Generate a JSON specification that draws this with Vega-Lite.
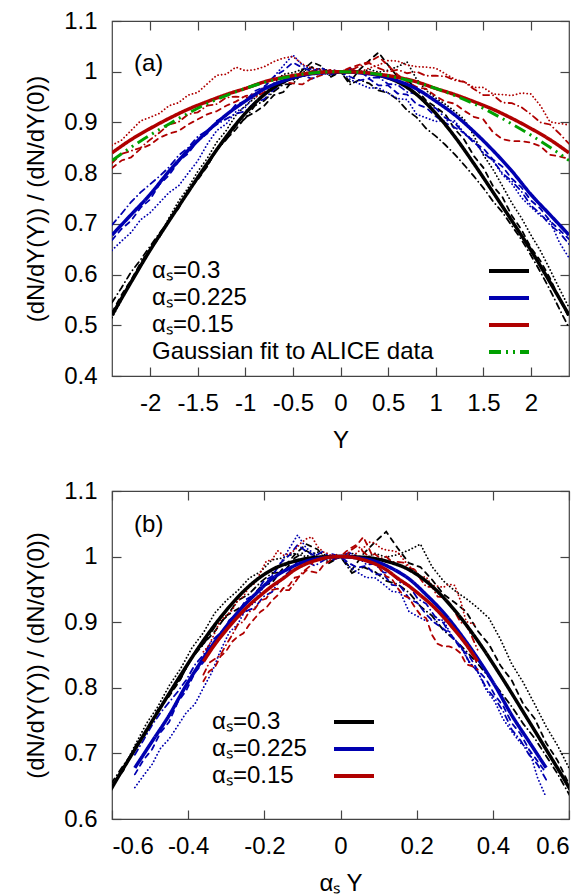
{
  "$schema": "https://vega.github.io/schema/vega-lite/v6.json",
  "padding": {"left": 24, "top": 8, "right": 0, "bottom": 0},
  "bounds": "flush",
  "spacing": 115,
  "config": {
    "view": {"stroke": "#444", "strokeWidth": 1.2},
    "font": "Liberation Sans",
    "locale": {"number": {"decimal": ".", "thousands": ",", "grouping": [3], "currency": ["$", ""], "minus": "-"}},
    "axis": {"grid": false, "domain": false, "tickColor": "#444", "tickSize": -9, "tickWidth": 1.2, "labelFont": "Liberation Sans", "labelFontSize": 24, "labelColor": "black", "labelPadding": 24, "titleFont": "Liberation Sans", "titleFontSize": 24, "titleFontWeight": "normal", "titleColor": "black"},
    "legend": {"labelFont": "Liberation Sans", "labelFontSize": 24, "labelColor": "black", "labelLimit": 0, "symbolType": "M-2,0L2,0", "symbolSize": 400, "symbolStrokeWidth": 4, "rowPadding": 3, "padding": 0}
  },
  "datasets": {
    "curves": [
      {"s":"αₛ=0.3","x":-2.4,"a":-0.72,"v":0.520},{"s":"αₛ=0.3","x":-2.2,"a":-0.66,"v":0.585},{"s":"αₛ=0.3","x":-2.0,"a":-0.6,"v":0.648},{"s":"αₛ=0.3","x":-1.8,"a":-0.54,"v":0.706},{"s":"αₛ=0.3","x":-1.6,"a":-0.48,"v":0.763},{"s":"αₛ=0.3","x":-1.4,"a":-0.42,"v":0.819},{"s":"αₛ=0.3","x":-1.2,"a":-0.36,"v":0.872},{"s":"αₛ=0.3","x":-1.0,"a":-0.3,"v":0.918},{"s":"αₛ=0.3","x":-0.8,"a":-0.24,"v":0.955},{"s":"αₛ=0.3","x":-0.6,"a":-0.18,"v":0.980},{"s":"αₛ=0.3","x":-0.4,"a":-0.12,"v":0.993},{"s":"αₛ=0.3","x":-0.2,"a":-0.06,"v":0.999},{"s":"αₛ=0.3","x":0,"a":0,"v":1.0},{"s":"αₛ=0.3","x":0.2,"a":0.06,"v":0.999},{"s":"αₛ=0.3","x":0.4,"a":0.12,"v":0.993},{"s":"αₛ=0.3","x":0.6,"a":0.18,"v":0.980},{"s":"αₛ=0.3","x":0.8,"a":0.24,"v":0.955},{"s":"αₛ=0.3","x":1.0,"a":0.3,"v":0.918},{"s":"αₛ=0.3","x":1.2,"a":0.36,"v":0.872},{"s":"αₛ=0.3","x":1.4,"a":0.42,"v":0.819},{"s":"αₛ=0.3","x":1.6,"a":0.48,"v":0.763},{"s":"αₛ=0.3","x":1.8,"a":0.54,"v":0.706},{"s":"αₛ=0.3","x":2.0,"a":0.6,"v":0.648},{"s":"αₛ=0.3","x":2.2,"a":0.66,"v":0.585},{"s":"αₛ=0.3","x":2.4,"a":0.72,"v":0.520},
      {"s":"αₛ=0.225","x":-2.4,"a":-0.54,"v":0.678},{"s":"αₛ=0.225","x":-2.2,"a":-0.495,"v":0.718},{"s":"αₛ=0.225","x":-2.0,"a":-0.45,"v":0.758},{"s":"αₛ=0.225","x":-1.8,"a":-0.405,"v":0.804},{"s":"αₛ=0.225","x":-1.6,"a":-0.36,"v":0.845},{"s":"αₛ=0.225","x":-1.4,"a":-0.315,"v":0.882},{"s":"αₛ=0.225","x":-1.2,"a":-0.27,"v":0.915},{"s":"αₛ=0.225","x":-1.0,"a":-0.225,"v":0.942},{"s":"αₛ=0.225","x":-0.8,"a":-0.18,"v":0.966},{"s":"αₛ=0.225","x":-0.6,"a":-0.135,"v":0.982},{"s":"αₛ=0.225","x":-0.4,"a":-0.09,"v":0.993},{"s":"αₛ=0.225","x":-0.2,"a":-0.045,"v":0.998},{"s":"αₛ=0.225","x":0,"a":0,"v":1.0},{"s":"αₛ=0.225","x":0.2,"a":0.045,"v":0.998},{"s":"αₛ=0.225","x":0.4,"a":0.09,"v":0.993},{"s":"αₛ=0.225","x":0.6,"a":0.135,"v":0.982},{"s":"αₛ=0.225","x":0.8,"a":0.18,"v":0.966},{"s":"αₛ=0.225","x":1.0,"a":0.225,"v":0.942},{"s":"αₛ=0.225","x":1.2,"a":0.27,"v":0.915},{"s":"αₛ=0.225","x":1.4,"a":0.315,"v":0.882},{"s":"αₛ=0.225","x":1.6,"a":0.36,"v":0.845},{"s":"αₛ=0.225","x":1.8,"a":0.405,"v":0.804},{"s":"αₛ=0.225","x":2.0,"a":0.45,"v":0.758},{"s":"αₛ=0.225","x":2.2,"a":0.495,"v":0.718},{"s":"αₛ=0.225","x":2.4,"a":0.54,"v":0.678},
      {"s":"αₛ=0.15","x":-2.4,"a":-0.36,"v":0.840},{"s":"αₛ=0.15","x":-2.2,"a":-0.33,"v":0.866},{"s":"αₛ=0.15","x":-2.0,"a":-0.3,"v":0.888},{"s":"αₛ=0.15","x":-1.8,"a":-0.27,"v":0.908},{"s":"αₛ=0.15","x":-1.6,"a":-0.24,"v":0.926},{"s":"αₛ=0.15","x":-1.4,"a":-0.21,"v":0.941},{"s":"αₛ=0.15","x":-1.2,"a":-0.18,"v":0.955},{"s":"αₛ=0.15","x":-1.0,"a":-0.15,"v":0.967},{"s":"αₛ=0.15","x":-0.8,"a":-0.12,"v":0.980},{"s":"αₛ=0.15","x":-0.6,"a":-0.09,"v":0.989},{"s":"αₛ=0.15","x":-0.4,"a":-0.06,"v":0.995},{"s":"αₛ=0.15","x":-0.2,"a":-0.03,"v":0.999},{"s":"αₛ=0.15","x":0,"a":0,"v":1.0},{"s":"αₛ=0.15","x":0.2,"a":0.03,"v":0.999},{"s":"αₛ=0.15","x":0.4,"a":0.06,"v":0.995},{"s":"αₛ=0.15","x":0.6,"a":0.09,"v":0.989},{"s":"αₛ=0.15","x":0.8,"a":0.12,"v":0.980},{"s":"αₛ=0.15","x":1.0,"a":0.15,"v":0.967},{"s":"αₛ=0.15","x":1.2,"a":0.18,"v":0.955},{"s":"αₛ=0.15","x":1.4,"a":0.21,"v":0.941},{"s":"αₛ=0.15","x":1.6,"a":0.24,"v":0.926},{"s":"αₛ=0.15","x":1.8,"a":0.27,"v":0.908},{"s":"αₛ=0.15","x":2.0,"a":0.3,"v":0.888},{"s":"αₛ=0.15","x":2.2,"a":0.33,"v":0.866},{"s":"αₛ=0.15","x":2.4,"a":0.36,"v":0.840},
      {"s":"Gaussian fit to ALICE data","x":-2.4,"v":0.825},{"s":"Gaussian fit to ALICE data","x":-2.2,"v":0.851},{"s":"Gaussian fit to ALICE data","x":-2.0,"v":0.875},{"s":"Gaussian fit to ALICE data","x":-1.8,"v":0.897},{"s":"Gaussian fit to ALICE data","x":-1.6,"v":0.918},{"s":"Gaussian fit to ALICE data","x":-1.4,"v":0.937},{"s":"Gaussian fit to ALICE data","x":-1.2,"v":0.953},{"s":"Gaussian fit to ALICE data","x":-1.0,"v":0.967},{"s":"Gaussian fit to ALICE data","x":-0.8,"v":0.979},{"s":"Gaussian fit to ALICE data","x":-0.6,"v":0.988},{"s":"Gaussian fit to ALICE data","x":-0.4,"v":0.995},{"s":"Gaussian fit to ALICE data","x":-0.2,"v":0.999},{"s":"Gaussian fit to ALICE data","x":0,"v":1.0},{"s":"Gaussian fit to ALICE data","x":0.2,"v":0.999},{"s":"Gaussian fit to ALICE data","x":0.4,"v":0.995},{"s":"Gaussian fit to ALICE data","x":0.6,"v":0.988},{"s":"Gaussian fit to ALICE data","x":0.8,"v":0.979},{"s":"Gaussian fit to ALICE data","x":1.0,"v":0.967},{"s":"Gaussian fit to ALICE data","x":1.2,"v":0.953},{"s":"Gaussian fit to ALICE data","x":1.4,"v":0.937},{"s":"Gaussian fit to ALICE data","x":1.6,"v":0.918},{"s":"Gaussian fit to ALICE data","x":1.8,"v":0.897},{"s":"Gaussian fit to ALICE data","x":2.0,"v":0.875},{"s":"Gaussian fit to ALICE data","x":2.2,"v":0.851},{"s":"Gaussian fit to ALICE data","x":2.4,"v":0.825},
      {"s":"0.3 run1","x":-2.4,"a":-0.72,"v":0.525},{"s":"0.3 run1","x":-2.3,"a":-0.69,"v":0.560},{"s":"0.3 run1","x":-2.2,"a":-0.66,"v":0.589},{"s":"0.3 run1","x":-2.1,"a":-0.63,"v":0.623},{"s":"0.3 run1","x":-2.0,"a":-0.6,"v":0.650},{"s":"0.3 run1","x":-1.9,"a":-0.57,"v":0.674},{"s":"0.3 run1","x":-1.8,"a":-0.54,"v":0.710},{"s":"0.3 run1","x":-1.7,"a":-0.51,"v":0.733},{"s":"0.3 run1","x":-1.6,"a":-0.48,"v":0.766},{"s":"0.3 run1","x":-1.5,"a":-0.45,"v":0.787},{"s":"0.3 run1","x":-1.4,"a":-0.42,"v":0.813},{"s":"0.3 run1","x":-1.3,"a":-0.39,"v":0.848},{"s":"0.3 run1","x":-1.2,"a":-0.36,"v":0.867},{"s":"0.3 run1","x":-1.1,"a":-0.33,"v":0.886},{"s":"0.3 run1","x":-1.0,"a":-0.3,"v":0.910},{"s":"0.3 run1","x":-0.9,"a":-0.27,"v":0.920},{"s":"0.3 run1","x":-0.8,"a":-0.24,"v":0.933},{"s":"0.3 run1","x":-0.7,"a":-0.21,"v":0.954},{"s":"0.3 run1","x":-0.6,"a":-0.18,"v":0.960},{"s":"0.3 run1","x":-0.5,"a":-0.15,"v":0.983},{"s":"0.3 run1","x":-0.4,"a":-0.12,"v":1.003},{"s":"0.3 run1","x":-0.3,"a":-0.09,"v":1.019},{"s":"0.3 run1","x":-0.2,"a":-0.06,"v":1.011},{"s":"0.3 run1","x":-0.1,"a":-0.03,"v":0.990},{"s":"0.3 run1","x":0,"a":0,"v":1.0},{"s":"0.3 run1","x":0.1,"a":0.03,"v":0.980},{"s":"0.3 run1","x":0.2,"a":0.06,"v":1.004},{"s":"0.3 run1","x":0.3,"a":0.09,"v":1.022},{"s":"0.3 run1","x":0.4,"a":0.12,"v":1.038},{"s":"0.3 run1","x":0.5,"a":0.15,"v":1.013},{"s":"0.3 run1","x":0.6,"a":0.18,"v":0.990},{"s":"0.3 run1","x":0.7,"a":0.21,"v":0.984},{"s":"0.3 run1","x":0.8,"a":0.24,"v":0.965},{"s":"0.3 run1","x":0.9,"a":0.27,"v":0.943},{"s":"0.3 run1","x":1.0,"a":0.3,"v":0.930},{"s":"0.3 run1","x":1.1,"a":0.33,"v":0.916},{"s":"0.3 run1","x":1.2,"a":0.36,"v":0.887},{"s":"0.3 run1","x":1.3,"a":0.39,"v":0.866},{"s":"0.3 run1","x":1.4,"a":0.42,"v":0.834},{"s":"0.3 run1","x":1.5,"a":0.45,"v":0.811},{"s":"0.3 run1","x":1.6,"a":0.48,"v":0.775},{"s":"0.3 run1","x":1.7,"a":0.51,"v":0.753},{"s":"0.3 run1","x":1.8,"a":0.54,"v":0.716},{"s":"0.3 run1","x":1.9,"a":0.57,"v":0.689},{"s":"0.3 run1","x":2.0,"a":0.6,"v":0.653},{"s":"0.3 run1","x":2.1,"a":0.63,"v":0.627},{"s":"0.3 run1","x":2.2,"a":0.66,"v":0.593},{"s":"0.3 run1","x":2.3,"a":0.69,"v":0.552},{"s":"0.3 run1","x":2.4,"a":0.72,"v":0.515},
      {"s":"0.3 run2","x":-2.4,"a":-0.72,"v":0.515},{"s":"0.3 run2","x":-2.3,"a":-0.69,"v":0.550},{"s":"0.3 run2","x":-2.2,"a":-0.66,"v":0.588},{"s":"0.3 run2","x":-2.1,"a":-0.63,"v":0.617},{"s":"0.3 run2","x":-2.0,"a":-0.6,"v":0.652},{"s":"0.3 run2","x":-1.9,"a":-0.57,"v":0.677},{"s":"0.3 run2","x":-1.8,"a":-0.54,"v":0.712},{"s":"0.3 run2","x":-1.7,"a":-0.51,"v":0.745},{"s":"0.3 run2","x":-1.6,"a":-0.48,"v":0.771},{"s":"0.3 run2","x":-1.5,"a":-0.45,"v":0.803},{"s":"0.3 run2","x":-1.4,"a":-0.42,"v":0.829},{"s":"0.3 run2","x":-1.3,"a":-0.39,"v":0.861},{"s":"0.3 run2","x":-1.2,"a":-0.36,"v":0.884},{"s":"0.3 run2","x":-1.1,"a":-0.33,"v":0.914},{"s":"0.3 run2","x":-1.0,"a":-0.3,"v":0.933},{"s":"0.3 run2","x":-0.9,"a":-0.27,"v":0.948},{"s":"0.3 run2","x":-0.8,"a":-0.24,"v":0.967},{"s":"0.3 run2","x":-0.7,"a":-0.21,"v":0.977},{"s":"0.3 run2","x":-0.6,"a":-0.18,"v":0.995},{"s":"0.3 run2","x":-0.5,"a":-0.15,"v":0.998},{"s":"0.3 run2","x":-0.4,"a":-0.12,"v":1.005},{"s":"0.3 run2","x":-0.3,"a":-0.09,"v":1.000},{"s":"0.3 run2","x":-0.2,"a":-0.06,"v":1.007},{"s":"0.3 run2","x":-0.1,"a":-0.03,"v":1.000},{"s":"0.3 run2","x":0,"a":0,"v":1.0},{"s":"0.3 run2","x":0.1,"a":0.03,"v":1.005},{"s":"0.3 run2","x":0.2,"a":0.06,"v":0.996},{"s":"0.3 run2","x":0.3,"a":0.09,"v":1.005},{"s":"0.3 run2","x":0.4,"a":0.12,"v":0.999},{"s":"0.3 run2","x":0.5,"a":0.15,"v":1.003},{"s":"0.3 run2","x":0.6,"a":0.18,"v":1.010},{"s":"0.3 run2","x":0.7,"a":0.21,"v":1.019},{"s":"0.3 run2","x":0.8,"a":0.24,"v":0.985},{"s":"0.3 run2","x":0.9,"a":0.27,"v":0.963},{"s":"0.3 run2","x":1.0,"a":0.3,"v":0.948},{"s":"0.3 run2","x":1.1,"a":0.33,"v":0.936},{"s":"0.3 run2","x":1.2,"a":0.36,"v":0.922},{"s":"0.3 run2","x":1.3,"a":0.39,"v":0.906},{"s":"0.3 run2","x":1.4,"a":0.42,"v":0.874},{"s":"0.3 run2","x":1.5,"a":0.45,"v":0.836},{"s":"0.3 run2","x":1.6,"a":0.48,"v":0.808},{"s":"0.3 run2","x":1.7,"a":0.51,"v":0.775},{"s":"0.3 run2","x":1.8,"a":0.54,"v":0.741},{"s":"0.3 run2","x":1.9,"a":0.57,"v":0.712},{"s":"0.3 run2","x":2.0,"a":0.6,"v":0.678},{"s":"0.3 run2","x":2.1,"a":0.63,"v":0.647},{"s":"0.3 run2","x":2.2,"a":0.66,"v":0.610},{"s":"0.3 run2","x":2.3,"a":0.69,"v":0.572},{"s":"0.3 run2","x":2.4,"a":0.72,"v":0.535},
      {"s":"0.3 run3","x":-2.4,"a":-0.72,"v":0.545},{"s":"0.3 run3","x":-2.3,"a":-0.69,"v":0.574},{"s":"0.3 run3","x":-2.2,"a":-0.66,"v":0.605},{"s":"0.3 run3","x":-2.1,"a":-0.63,"v":0.629},{"s":"0.3 run3","x":-2.0,"a":-0.6,"v":0.656},{"s":"0.3 run3","x":-1.9,"a":-0.57,"v":0.682},{"s":"0.3 run3","x":-1.8,"a":-0.54,"v":0.706},{"s":"0.3 run3","x":-1.7,"a":-0.51,"v":0.731},{"s":"0.3 run3","x":-1.6,"a":-0.48,"v":0.765},{"s":"0.3 run3","x":-1.5,"a":-0.45,"v":0.789},{"s":"0.3 run3","x":-1.4,"a":-0.42,"v":0.814},{"s":"0.3 run3","x":-1.3,"a":-0.39,"v":0.846},{"s":"0.3 run3","x":-1.2,"a":-0.36,"v":0.866},{"s":"0.3 run3","x":-1.1,"a":-0.33,"v":0.893},{"s":"0.3 run3","x":-1.0,"a":-0.3,"v":0.908},{"s":"0.3 run3","x":-0.9,"a":-0.27,"v":0.933},{"s":"0.3 run3","x":-0.8,"a":-0.24,"v":0.943},{"s":"0.3 run3","x":-0.7,"a":-0.21,"v":0.961},{"s":"0.3 run3","x":-0.6,"a":-0.18,"v":0.975},{"s":"0.3 run3","x":-0.5,"a":-0.15,"v":0.976},{"s":"0.3 run3","x":-0.4,"a":-0.12,"v":0.998},{"s":"0.3 run3","x":-0.3,"a":-0.09,"v":1.009},{"s":"0.3 run3","x":-0.2,"a":-0.06,"v":0.999},{"s":"0.3 run3","x":-0.1,"a":-0.03,"v":0.992},{"s":"0.3 run3","x":0,"a":0,"v":1.0},{"s":"0.3 run3","x":0.1,"a":0.03,"v":0.975},{"s":"0.3 run3","x":0.2,"a":0.06,"v":0.984},{"s":"0.3 run3","x":0.3,"a":0.09,"v":0.977},{"s":"0.3 run3","x":0.4,"a":0.12,"v":0.963},{"s":"0.3 run3","x":0.5,"a":0.15,"v":0.958},{"s":"0.3 run3","x":0.6,"a":0.18,"v":0.945},{"s":"0.3 run3","x":0.7,"a":0.21,"v":0.924},{"s":"0.3 run3","x":0.8,"a":0.24,"v":0.910},{"s":"0.3 run3","x":0.9,"a":0.27,"v":0.888},{"s":"0.3 run3","x":1.0,"a":0.3,"v":0.873},{"s":"0.3 run3","x":1.1,"a":0.33,"v":0.856},{"s":"0.3 run3","x":1.2,"a":0.36,"v":0.837},{"s":"0.3 run3","x":1.3,"a":0.39,"v":0.816},{"s":"0.3 run3","x":1.4,"a":0.42,"v":0.794},{"s":"0.3 run3","x":1.5,"a":0.45,"v":0.771},{"s":"0.3 run3","x":1.6,"a":0.48,"v":0.745},{"s":"0.3 run3","x":1.7,"a":0.51,"v":0.723},{"s":"0.3 run3","x":1.8,"a":0.54,"v":0.696},{"s":"0.3 run3","x":1.9,"a":0.57,"v":0.669},{"s":"0.3 run3","x":2.0,"a":0.6,"v":0.638},{"s":"0.3 run3","x":2.1,"a":0.63,"v":0.605},{"s":"0.3 run3","x":2.2,"a":0.66,"v":0.570},{"s":"0.3 run3","x":2.3,"a":0.69,"v":0.532},{"s":"0.3 run3","x":2.4,"a":0.72,"v":0.495},
      {"s":"0.225 run1","x":-2.4,"a":-0.54,"v":0.668},{"s":"0.225 run1","x":-2.3,"a":-0.5175,"v":0.690},{"s":"0.225 run1","x":-2.2,"a":-0.495,"v":0.706},{"s":"0.225 run1","x":-2.1,"a":-0.4725,"v":0.732},{"s":"0.225 run1","x":-2.0,"a":-0.45,"v":0.748},{"s":"0.225 run1","x":-1.9,"a":-0.4275,"v":0.778},{"s":"0.225 run1","x":-1.8,"a":-0.405,"v":0.796},{"s":"0.225 run1","x":-1.7,"a":-0.3825,"v":0.823},{"s":"0.225 run1","x":-1.6,"a":-0.36,"v":0.839},{"s":"0.225 run1","x":-1.5,"a":-0.3375,"v":0.864},{"s":"0.225 run1","x":-1.4,"a":-0.315,"v":0.878},{"s":"0.225 run1","x":-1.3,"a":-0.2925,"v":0.903},{"s":"0.225 run1","x":-1.2,"a":-0.27,"v":0.913},{"s":"0.225 run1","x":-1.1,"a":-0.2475,"v":0.935},{"s":"0.225 run1","x":-1.0,"a":-0.225,"v":0.942},{"s":"0.225 run1","x":-0.9,"a":-0.2025,"v":0.962},{"s":"0.225 run1","x":-0.8,"a":-0.18,"v":0.970},{"s":"0.225 run1","x":-0.7,"a":-0.1575,"v":0.990},{"s":"0.225 run1","x":-0.6,"a":-0.135,"v":1.002},{"s":"0.225 run1","x":-0.5,"a":-0.1125,"v":1.018},{"s":"0.225 run1","x":-0.4,"a":-0.09,"v":1.008},{"s":"0.225 run1","x":-0.3,"a":-0.0675,"v":1.001},{"s":"0.225 run1","x":-0.2,"a":-0.045,"v":1.008},{"s":"0.225 run1","x":-0.1,"a":-0.0225,"v":0.995},{"s":"0.225 run1","x":0,"a":0,"v":1.0},{"s":"0.225 run1","x":0.1,"a":0.0225,"v":0.990},{"s":"0.225 run1","x":0.2,"a":0.045,"v":0.983},{"s":"0.225 run1","x":0.3,"a":0.0675,"v":0.986},{"s":"0.225 run1","x":0.4,"a":0.09,"v":0.973},{"s":"0.225 run1","x":0.5,"a":0.1125,"v":0.973},{"s":"0.225 run1","x":0.6,"a":0.135,"v":0.957},{"s":"0.225 run1","x":0.7,"a":0.1575,"v":0.955},{"s":"0.225 run1","x":0.8,"a":0.18,"v":0.936},{"s":"0.225 run1","x":0.9,"a":0.2025,"v":0.929},{"s":"0.225 run1","x":1.0,"a":0.225,"v":0.912},{"s":"0.225 run1","x":1.1,"a":0.2475,"v":0.899},{"s":"0.225 run1","x":1.2,"a":0.27,"v":0.890},{"s":"0.225 run1","x":1.3,"a":0.2925,"v":0.879},{"s":"0.225 run1","x":1.4,"a":0.315,"v":0.860},{"s":"0.225 run1","x":1.5,"a":0.3375,"v":0.849},{"s":"0.225 run1","x":1.6,"a":0.36,"v":0.827},{"s":"0.225 run1","x":1.7,"a":0.3825,"v":0.813},{"s":"0.225 run1","x":1.8,"a":0.405,"v":0.789},{"s":"0.225 run1","x":1.9,"a":0.4275,"v":0.772},{"s":"0.225 run1","x":2.0,"a":0.45,"v":0.746},{"s":"0.225 run1","x":2.1,"a":0.4725,"v":0.730},{"s":"0.225 run1","x":2.2,"a":0.495,"v":0.706},{"s":"0.225 run1","x":2.3,"a":0.5175,"v":0.688},{"s":"0.225 run1","x":2.4,"a":0.54,"v":0.670},
      {"s":"0.225 run2","x":-2.4,"a":-0.54,"v":0.648},{"s":"0.225 run2","x":-2.3,"a":-0.5175,"v":0.666},{"s":"0.225 run2","x":-2.2,"a":-0.495,"v":0.683},{"s":"0.225 run2","x":-2.1,"a":-0.4725,"v":0.708},{"s":"0.225 run2","x":-2.0,"a":-0.45,"v":0.722},{"s":"0.225 run2","x":-1.9,"a":-0.4275,"v":0.742},{"s":"0.225 run2","x":-1.8,"a":-0.405,"v":0.762},{"s":"0.225 run2","x":-1.7,"a":-0.3825,"v":0.775},{"s":"0.225 run2","x":-1.6,"a":-0.36,"v":0.800},{"s":"0.225 run2","x":-1.5,"a":-0.3375,"v":0.824},{"s":"0.225 run2","x":-1.4,"a":-0.315,"v":0.857},{"s":"0.225 run2","x":-1.3,"a":-0.2925,"v":0.884},{"s":"0.225 run2","x":-1.2,"a":-0.27,"v":0.897},{"s":"0.225 run2","x":-1.1,"a":-0.2475,"v":0.921},{"s":"0.225 run2","x":-1.0,"a":-0.225,"v":0.930},{"s":"0.225 run2","x":-0.9,"a":-0.2025,"v":0.954},{"s":"0.225 run2","x":-0.8,"a":-0.18,"v":0.971},{"s":"0.225 run2","x":-0.7,"a":-0.1575,"v":0.990},{"s":"0.225 run2","x":-0.6,"a":-0.135,"v":1.012},{"s":"0.225 run2","x":-0.5,"a":-0.1125,"v":1.033},{"s":"0.225 run2","x":-0.4,"a":-0.09,"v":1.013},{"s":"0.225 run2","x":-0.3,"a":-0.0675,"v":1.004},{"s":"0.225 run2","x":-0.2,"a":-0.045,"v":0.998},{"s":"0.225 run2","x":-0.1,"a":-0.0225,"v":0.994},{"s":"0.225 run2","x":0,"a":0,"v":1.0},{"s":"0.225 run2","x":0.1,"a":0.0225,"v":0.985},{"s":"0.225 run2","x":0.2,"a":0.045,"v":0.976},{"s":"0.225 run2","x":0.3,"a":0.0675,"v":0.968},{"s":"0.225 run2","x":0.4,"a":0.09,"v":0.968},{"s":"0.225 run2","x":0.5,"a":0.1125,"v":0.958},{"s":"0.225 run2","x":0.6,"a":0.135,"v":0.947},{"s":"0.225 run2","x":0.7,"a":0.1575,"v":0.945},{"s":"0.225 run2","x":0.8,"a":0.18,"v":0.916},{"s":"0.225 run2","x":0.9,"a":0.2025,"v":0.909},{"s":"0.225 run2","x":1.0,"a":0.225,"v":0.902},{"s":"0.225 run2","x":1.1,"a":0.2475,"v":0.904},{"s":"0.225 run2","x":1.2,"a":0.27,"v":0.903},{"s":"0.225 run2","x":1.3,"a":0.2925,"v":0.879},{"s":"0.225 run2","x":1.4,"a":0.315,"v":0.864},{"s":"0.225 run2","x":1.5,"a":0.3375,"v":0.839},{"s":"0.225 run2","x":1.6,"a":0.36,"v":0.825},{"s":"0.225 run2","x":1.7,"a":0.3825,"v":0.797},{"s":"0.225 run2","x":1.8,"a":0.405,"v":0.779},{"s":"0.225 run2","x":1.9,"a":0.4275,"v":0.752},{"s":"0.225 run2","x":2.0,"a":0.45,"v":0.733},{"s":"0.225 run2","x":2.1,"a":0.4725,"v":0.716},{"s":"0.225 run2","x":2.2,"a":0.495,"v":0.706},{"s":"0.225 run2","x":2.3,"a":0.5175,"v":0.663},{"s":"0.225 run2","x":2.4,"a":0.54,"v":0.633},
      {"s":"0.225 run3","x":-2.4,"a":-0.54,"v":0.698},{"s":"0.225 run3","x":-2.3,"a":-0.5175,"v":0.720},{"s":"0.225 run3","x":-2.2,"a":-0.495,"v":0.743},{"s":"0.225 run3","x":-2.1,"a":-0.4725,"v":0.762},{"s":"0.225 run3","x":-2.0,"a":-0.45,"v":0.778},{"s":"0.225 run3","x":-1.9,"a":-0.4275,"v":0.794},{"s":"0.225 run3","x":-1.8,"a":-0.405,"v":0.812},{"s":"0.225 run3","x":-1.7,"a":-0.3825,"v":0.835},{"s":"0.225 run3","x":-1.6,"a":-0.36,"v":0.850},{"s":"0.225 run3","x":-1.5,"a":-0.3375,"v":0.872},{"s":"0.225 run3","x":-1.4,"a":-0.315,"v":0.884},{"s":"0.225 run3","x":-1.3,"a":-0.2925,"v":0.896},{"s":"0.225 run3","x":-1.2,"a":-0.27,"v":0.907},{"s":"0.225 run3","x":-1.1,"a":-0.2475,"v":0.917},{"s":"0.225 run3","x":-1.0,"a":-0.225,"v":0.922},{"s":"0.225 run3","x":-0.9,"a":-0.2025,"v":0.939},{"s":"0.225 run3","x":-0.8,"a":-0.18,"v":0.946},{"s":"0.225 run3","x":-0.7,"a":-0.1575,"v":0.965},{"s":"0.225 run3","x":-0.6,"a":-0.135,"v":0.977},{"s":"0.225 run3","x":-0.5,"a":-0.1125,"v":0.993},{"s":"0.225 run3","x":-0.4,"a":-0.09,"v":0.993},{"s":"0.225 run3","x":-0.3,"a":-0.0675,"v":0.986},{"s":"0.225 run3","x":-0.2,"a":-0.045,"v":0.994},{"s":"0.225 run3","x":-0.1,"a":-0.0225,"v":1.004},{"s":"0.225 run3","x":0,"a":0,"v":1.0},{"s":"0.225 run3","x":0.1,"a":0.0225,"v":1.006},{"s":"0.225 run3","x":0.2,"a":0.045,"v":1.000},{"s":"0.225 run3","x":0.3,"a":0.0675,"v":0.988},{"s":"0.225 run3","x":0.4,"a":0.09,"v":0.989},{"s":"0.225 run3","x":0.5,"a":0.1125,"v":0.976},{"s":"0.225 run3","x":0.6,"a":0.135,"v":0.974},{"s":"0.225 run3","x":0.7,"a":0.1575,"v":0.960},{"s":"0.225 run3","x":0.8,"a":0.18,"v":0.956},{"s":"0.225 run3","x":0.9,"a":0.2025,"v":0.936},{"s":"0.225 run3","x":1.0,"a":0.225,"v":0.928},{"s":"0.225 run3","x":1.1,"a":0.2475,"v":0.909},{"s":"0.225 run3","x":1.2,"a":0.27,"v":0.899},{"s":"0.225 run3","x":1.3,"a":0.2925,"v":0.877},{"s":"0.225 run3","x":1.4,"a":0.315,"v":0.864},{"s":"0.225 run3","x":1.5,"a":0.3375,"v":0.840},{"s":"0.225 run3","x":1.6,"a":0.36,"v":0.825},{"s":"0.225 run3","x":1.7,"a":0.3825,"v":0.800},{"s":"0.225 run3","x":1.8,"a":0.405,"v":0.784},{"s":"0.225 run3","x":1.9,"a":0.4275,"v":0.764},{"s":"0.225 run3","x":2.0,"a":0.45,"v":0.736},{"s":"0.225 run3","x":2.1,"a":0.4725,"v":0.720},{"s":"0.225 run3","x":2.2,"a":0.495,"v":0.698},{"s":"0.225 run3","x":2.3,"a":0.5175,"v":0.683},{"s":"0.225 run3","x":2.4,"a":0.54,"v":0.660},
      {"s":"0.15 run1","x":-2.4,"a":-0.36,"v":0.810},{"s":"0.15 run1","x":-2.3,"a":-0.345,"v":0.825},{"s":"0.15 run1","x":-2.2,"a":-0.33,"v":0.831},{"s":"0.15 run1","x":-2.1,"a":-0.315,"v":0.848},{"s":"0.15 run1","x":-2.0,"a":-0.3,"v":0.856},{"s":"0.15 run1","x":-1.9,"a":-0.285,"v":0.870},{"s":"0.15 run1","x":-1.8,"a":-0.27,"v":0.878},{"s":"0.15 run1","x":-1.7,"a":-0.255,"v":0.883},{"s":"0.15 run1","x":-1.6,"a":-0.24,"v":0.896},{"s":"0.15 run1","x":-1.5,"a":-0.225,"v":0.906},{"s":"0.15 run1","x":-1.4,"a":-0.21,"v":0.916},{"s":"0.15 run1","x":-1.3,"a":-0.195,"v":0.922},{"s":"0.15 run1","x":-1.2,"a":-0.18,"v":0.933},{"s":"0.15 run1","x":-1.1,"a":-0.165,"v":0.941},{"s":"0.15 run1","x":-1.0,"a":-0.15,"v":0.952},{"s":"0.15 run1","x":-0.9,"a":-0.135,"v":0.956},{"s":"0.15 run1","x":-0.8,"a":-0.12,"v":0.968},{"s":"0.15 run1","x":-0.7,"a":-0.105,"v":0.970},{"s":"0.15 run1","x":-0.6,"a":-0.09,"v":0.979},{"s":"0.15 run1","x":-0.5,"a":-0.075,"v":0.977},{"s":"0.15 run1","x":-0.4,"a":-0.06,"v":0.975},{"s":"0.15 run1","x":-0.3,"a":-0.045,"v":0.987},{"s":"0.15 run1","x":-0.2,"a":-0.03,"v":0.993},{"s":"0.15 run1","x":-0.1,"a":-0.015,"v":1.000},{"s":"0.15 run1","x":0,"a":0,"v":1.0},{"s":"0.15 run1","x":0.1,"a":0.015,"v":1.008},{"s":"0.15 run1","x":0.2,"a":0.03,"v":1.014},{"s":"0.15 run1","x":0.3,"a":0.045,"v":1.019},{"s":"0.15 run1","x":0.4,"a":0.06,"v":1.030},{"s":"0.15 run1","x":0.5,"a":0.075,"v":1.012},{"s":"0.15 run1","x":0.6,"a":0.09,"v":0.994},{"s":"0.15 run1","x":0.7,"a":0.105,"v":0.980},{"s":"0.15 run1","x":0.8,"a":0.12,"v":0.970},{"s":"0.15 run1","x":0.9,"a":0.135,"v":0.966},{"s":"0.15 run1","x":1.0,"a":0.15,"v":0.952},{"s":"0.15 run1","x":1.1,"a":0.165,"v":0.941},{"s":"0.15 run1","x":1.2,"a":0.18,"v":0.937},{"s":"0.15 run1","x":1.3,"a":0.195,"v":0.923},{"s":"0.15 run1","x":1.4,"a":0.21,"v":0.911},{"s":"0.15 run1","x":1.5,"a":0.225,"v":0.906},{"s":"0.15 run1","x":1.6,"a":0.24,"v":0.881},{"s":"0.15 run1","x":1.7,"a":0.255,"v":0.867},{"s":"0.15 run1","x":1.8,"a":0.27,"v":0.863},{"s":"0.15 run1","x":1.9,"a":0.285,"v":0.863},{"s":"0.15 run1","x":2.0,"a":0.3,"v":0.860},{"s":"0.15 run1","x":2.1,"a":0.315,"v":0.853},{"s":"0.15 run1","x":2.2,"a":0.33,"v":0.836},{"s":"0.15 run1","x":2.3,"a":0.345,"v":0.833},{"s":"0.15 run1","x":2.4,"a":0.36,"v":0.828},
      {"s":"0.15 run2","x":-2.4,"a":-0.36,"v":0.855},{"s":"0.15 run2","x":-2.3,"a":-0.345,"v":0.865},{"s":"0.15 run2","x":-2.2,"a":-0.33,"v":0.884},{"s":"0.15 run2","x":-2.1,"a":-0.315,"v":0.903},{"s":"0.15 run2","x":-2.0,"a":-0.3,"v":0.910},{"s":"0.15 run2","x":-1.9,"a":-0.285,"v":0.918},{"s":"0.15 run2","x":-1.8,"a":-0.27,"v":0.933},{"s":"0.15 run2","x":-1.7,"a":-0.255,"v":0.939},{"s":"0.15 run2","x":-1.6,"a":-0.24,"v":0.954},{"s":"0.15 run2","x":-1.5,"a":-0.225,"v":0.959},{"s":"0.15 run2","x":-1.4,"a":-0.21,"v":0.976},{"s":"0.15 run2","x":-1.3,"a":-0.195,"v":0.993},{"s":"0.15 run2","x":-1.2,"a":-0.18,"v":0.995},{"s":"0.15 run2","x":-1.1,"a":-0.165,"v":1.009},{"s":"0.15 run2","x":-1.0,"a":-0.15,"v":1.002},{"s":"0.15 run2","x":-0.9,"a":-0.135,"v":1.004},{"s":"0.15 run2","x":-0.8,"a":-0.12,"v":1.010},{"s":"0.15 run2","x":-0.7,"a":-0.105,"v":1.020},{"s":"0.15 run2","x":-0.6,"a":-0.09,"v":1.027},{"s":"0.15 run2","x":-0.5,"a":-0.075,"v":1.030},{"s":"0.15 run2","x":-0.4,"a":-0.06,"v":1.015},{"s":"0.15 run2","x":-0.3,"a":-0.045,"v":1.007},{"s":"0.15 run2","x":-0.2,"a":-0.03,"v":1.004},{"s":"0.15 run2","x":-0.1,"a":-0.015,"v":0.996},{"s":"0.15 run2","x":0,"a":0,"v":1.0},{"s":"0.15 run2","x":0.1,"a":0.015,"v":1.006},{"s":"0.15 run2","x":0.2,"a":0.03,"v":0.999},{"s":"0.15 run2","x":0.3,"a":0.045,"v":1.007},{"s":"0.15 run2","x":0.4,"a":0.06,"v":1.013},{"s":"0.15 run2","x":0.5,"a":0.075,"v":1.022},{"s":"0.15 run2","x":0.6,"a":0.09,"v":1.021},{"s":"0.15 run2","x":0.7,"a":0.105,"v":1.013},{"s":"0.15 run2","x":0.8,"a":0.12,"v":1.010},{"s":"0.15 run2","x":0.9,"a":0.135,"v":1.009},{"s":"0.15 run2","x":1.0,"a":0.15,"v":1.007},{"s":"0.15 run2","x":1.1,"a":0.165,"v":0.996},{"s":"0.15 run2","x":1.2,"a":0.18,"v":0.985},{"s":"0.15 run2","x":1.3,"a":0.195,"v":0.980},{"s":"0.15 run2","x":1.4,"a":0.21,"v":0.969},{"s":"0.15 run2","x":1.5,"a":0.225,"v":0.969},{"s":"0.15 run2","x":1.6,"a":0.24,"v":0.956},{"s":"0.15 run2","x":1.7,"a":0.255,"v":0.955},{"s":"0.15 run2","x":1.8,"a":0.27,"v":0.953},{"s":"0.15 run2","x":1.9,"a":0.285,"v":0.958},{"s":"0.15 run2","x":2.0,"a":0.3,"v":0.956},{"s":"0.15 run2","x":2.1,"a":0.315,"v":0.933},{"s":"0.15 run2","x":2.2,"a":0.33,"v":0.901},{"s":"0.15 run2","x":2.3,"a":0.345,"v":0.898},{"s":"0.15 run2","x":2.4,"a":0.36,"v":0.895},
      {"s":"0.15 run3","x":-2.4,"a":-0.36,"v":0.820},{"s":"0.15 run3","x":-2.3,"a":-0.345,"v":0.838},{"s":"0.15 run3","x":-2.2,"a":-0.33,"v":0.844},{"s":"0.15 run3","x":-2.1,"a":-0.315,"v":0.850},{"s":"0.15 run3","x":-2.0,"a":-0.3,"v":0.866},{"s":"0.15 run3","x":-1.9,"a":-0.285,"v":0.880},{"s":"0.15 run3","x":-1.8,"a":-0.27,"v":0.896},{"s":"0.15 run3","x":-1.7,"a":-0.255,"v":0.901},{"s":"0.15 run3","x":-1.6,"a":-0.24,"v":0.916},{"s":"0.15 run3","x":-1.5,"a":-0.225,"v":0.920},{"s":"0.15 run3","x":-1.4,"a":-0.21,"v":0.933},{"s":"0.15 run3","x":-1.3,"a":-0.195,"v":0.936},{"s":"0.15 run3","x":-1.2,"a":-0.18,"v":0.949},{"s":"0.15 run3","x":-1.1,"a":-0.165,"v":0.951},{"s":"0.15 run3","x":-1.0,"a":-0.15,"v":0.949},{"s":"0.15 run3","x":-0.9,"a":-0.135,"v":0.949},{"s":"0.15 run3","x":-0.8,"a":-0.12,"v":0.960},{"s":"0.15 run3","x":-0.7,"a":-0.105,"v":0.973},{"s":"0.15 run3","x":-0.6,"a":-0.09,"v":0.981},{"s":"0.15 run3","x":-0.5,"a":-0.075,"v":0.988},{"s":"0.15 run3","x":-0.4,"a":-0.06,"v":0.997},{"s":"0.15 run3","x":-0.3,"a":-0.045,"v":1.001},{"s":"0.15 run3","x":-0.2,"a":-0.03,"v":0.999},{"s":"0.15 run3","x":-0.1,"a":-0.015,"v":1.004},{"s":"0.15 run3","x":0,"a":0,"v":1.0},{"s":"0.15 run3","x":0.1,"a":0.015,"v":1.002},{"s":"0.15 run3","x":0.2,"a":0.03,"v":1.011},{"s":"0.15 run3","x":0.3,"a":0.045,"v":1.017},{"s":"0.15 run3","x":0.4,"a":0.06,"v":1.007},{"s":"0.15 run3","x":0.5,"a":0.075,"v":1.000},{"s":"0.15 run3","x":0.6,"a":0.09,"v":1.004},{"s":"0.15 run3","x":0.7,"a":0.105,"v":0.997},{"s":"0.15 run3","x":0.8,"a":0.12,"v":1.000},{"s":"0.15 run3","x":0.9,"a":0.135,"v":0.992},{"s":"0.15 run3","x":1.0,"a":0.15,"v":0.992},{"s":"0.15 run3","x":1.1,"a":0.165,"v":0.991},{"s":"0.15 run3","x":1.2,"a":0.18,"v":0.983},{"s":"0.15 run3","x":1.3,"a":0.195,"v":0.980},{"s":"0.15 run3","x":1.4,"a":0.21,"v":0.966},{"s":"0.15 run3","x":1.5,"a":0.225,"v":0.954},{"s":"0.15 run3","x":1.6,"a":0.24,"v":0.954},{"s":"0.15 run3","x":1.7,"a":0.255,"v":0.939},{"s":"0.15 run3","x":1.8,"a":0.27,"v":0.938},{"s":"0.15 run3","x":1.9,"a":0.285,"v":0.930},{"s":"0.15 run3","x":2.0,"a":0.3,"v":0.916},{"s":"0.15 run3","x":2.1,"a":0.315,"v":0.900},{"s":"0.15 run3","x":2.2,"a":0.33,"v":0.896},{"s":"0.15 run3","x":2.3,"a":0.345,"v":0.878},{"s":"0.15 run3","x":2.4,"a":0.36,"v":0.858}
    ]
  },
  "vconcat": [
    {
      "width": 457,
      "height": 355,
      "data": {"name": "curves"},
      "resolve": {"axis": {"x": "independent", "y": "independent"}},
      "layer": [
        {
          "transform": [{"filter": "indexof(datum.s, 'run') >= 0"}],
          "mark": {"type": "line", "strokeWidth": 1.8, "strokeCap": "round", "clip": true},
          "encoding": {
            "x": {"field": "x", "type": "quantitative", "scale": {"domain": [-2.4, 2.4], "nice": false, "zero": false}, "axis": {"orient": "bottom", "values": [-2, -1.5, -1, -0.5, 0, 0.5, 1, 1.5, 2], "format": "~g", "title": "Y", "titlePadding": 13}},
            "y": {"field": "v", "type": "quantitative", "scale": {"domain": [0.4, 1.1], "nice": false, "zero": false}, "axis": {"orient": "left", "values": [0.4, 0.5, 0.6, 0.7, 0.8, 0.9, 1, 1.1], "format": "~g", "title": "(dN/dY(Y)) / (dN/dY(0))", "titlePadding": 15}},
            "color": {"field": "s", "type": "nominal",
              "scale": {"domain": ["αₛ=0.3", "αₛ=0.225", "αₛ=0.15", "Gaussian fit to ALICE data", "0.3 run1", "0.3 run2", "0.3 run3", "0.225 run1", "0.225 run2", "0.225 run3", "0.15 run1", "0.15 run2", "0.15 run3"],
                        "range": ["#000000", "#0000b0", "#b00000", "#00a000", "#000000", "#000000", "#000000", "#0000b0", "#0000b0", "#0000b0", "#b00000", "#b00000", "#b00000"]},
              "legend": {"orient": "none", "legendX": 385, "legendY": 238, "labelOffset": -369, "title": null, "values": ["αₛ=0.3", "αₛ=0.225", "αₛ=0.15", "Gaussian fit to ALICE data"]}},
            "strokeDash": {"field": "s", "type": "nominal",
              "scale": {"domain": ["αₛ=0.3", "αₛ=0.225", "αₛ=0.15", "Gaussian fit to ALICE data", "0.3 run1", "0.3 run2", "0.3 run3", "0.225 run1", "0.225 run2", "0.225 run3", "0.15 run1", "0.15 run2", "0.15 run3"],
                        "range": [[1, 0], [1, 0], [1, 0], [12, 5, 2, 5, 2, 5], [5, 5], [0.1, 3.5], [6, 4, 0.1, 4], [5, 5], [0.1, 3.5], [6, 4, 0.1, 4], [5, 5], [0.1, 3.5], [6, 4, 0.1, 4]]},
              "legend": {"orient": "none", "legendX": 385, "legendY": 238, "labelOffset": -369, "title": null, "values": ["αₛ=0.3", "αₛ=0.225", "αₛ=0.15", "Gaussian fit to ALICE data"]}}
          }
        },
        {
          "transform": [{"filter": "indexof(datum.s, 'run') < 0 && datum.s != 'Gaussian fit to ALICE data'"}],
          "mark": {"type": "line", "strokeWidth": 3.5, "interpolate": "monotone", "clip": true},
          "encoding": {
            "x": {"field": "x", "type": "quantitative", "axis": {"orient": "top", "values": [-2, -1.5, -1, -0.5, 0, 0.5, 1, 1.5, 2], "labels": false, "title": null}},
            "y": {"field": "v", "type": "quantitative", "axis": {"orient": "right", "values": [0.4, 0.5, 0.6, 0.7, 0.8, 0.9, 1, 1.1], "labels": false, "title": null}},
            "color": {"field": "s", "type": "nominal", "legend": {"orient": "none", "legendX": 385, "legendY": 238, "labelOffset": -369, "title": null, "values": ["αₛ=0.3", "αₛ=0.225", "αₛ=0.15", "Gaussian fit to ALICE data"]}},
            "strokeDash": {"field": "s", "type": "nominal", "legend": {"orient": "none", "legendX": 385, "legendY": 238, "labelOffset": -369, "title": null, "values": ["αₛ=0.3", "αₛ=0.225", "αₛ=0.15", "Gaussian fit to ALICE data"]}}
          }
        },
        {
          "transform": [{"filter": "datum.s == 'Gaussian fit to ALICE data'"}],
          "mark": {"type": "line", "strokeWidth": 3, "interpolate": "monotone", "clip": true},
          "encoding": {
            "x": {"field": "x", "type": "quantitative", "axis": null},
            "y": {"field": "v", "type": "quantitative", "axis": null},
            "color": {"field": "s", "type": "nominal", "legend": {"orient": "none", "legendX": 385, "legendY": 238, "labelOffset": -369, "title": null, "values": ["αₛ=0.3", "αₛ=0.225", "αₛ=0.15", "Gaussian fit to ALICE data"]}},
            "strokeDash": {"field": "s", "type": "nominal", "legend": {"orient": "none", "legendX": 385, "legendY": 238, "labelOffset": -369, "title": null, "values": ["αₛ=0.3", "αₛ=0.225", "αₛ=0.15", "Gaussian fit to ALICE data"]}}
          }
        },
        {
          "data": {"values": [{"label": "(a)"}]},
          "mark": {"type": "text", "align": "left", "baseline": "middle", "fontSize": 24, "font": "Liberation Sans", "color": "black"},
          "encoding": {
            "x": {"datum": -2.17, "type": "quantitative", "axis": null},
            "y": {"datum": 1.016, "type": "quantitative", "axis": null},
            "text": {"field": "label"}
          }
        }
      ]
    },
    {
      "width": 457,
      "height": 328,
      "data": {"name": "curves"},
      "resolve": {"axis": {"x": "independent", "y": "independent"}},
      "layer": [
        {
          "transform": [{"filter": "indexof(datum.s, 'run') >= 0"}],
          "mark": {"type": "line", "strokeWidth": 1.8, "strokeCap": "round", "clip": true},
          "encoding": {
            "x": {"field": "a", "type": "quantitative", "scale": {"domain": [-0.6, 0.6], "nice": false, "zero": false}, "axis": {"orient": "bottom", "values": [-0.6, -0.4, -0.2, 0, 0.2, 0.4, 0.6], "format": "~g", "title": "αₛ Y", "titlePadding": 13}},
            "y": {"field": "v", "type": "quantitative", "scale": {"domain": [0.6, 1.1], "nice": false, "zero": false}, "axis": {"orient": "left", "values": [0.6, 0.7, 0.8, 0.9, 1, 1.1], "format": "~g", "title": "(dN/dY(Y)) / (dN/dY(0))", "titlePadding": 15}},
            "color": {"field": "s", "type": "nominal",
              "scale": {"domain": ["αₛ=0.3", "αₛ=0.225", "αₛ=0.15", "Gaussian fit to ALICE data", "0.3 run1", "0.3 run2", "0.3 run3", "0.225 run1", "0.225 run2", "0.225 run3", "0.15 run1", "0.15 run2", "0.15 run3"],
                        "range": ["#000000", "#0000b0", "#b00000", "#00a000", "#000000", "#000000", "#000000", "#0000b0", "#0000b0", "#0000b0", "#b00000", "#b00000", "#b00000"]},
              "legend": {"orient": "none", "legendX": 230, "legendY": 219, "labelOffset": -154, "title": null, "values": ["αₛ=0.3", "αₛ=0.225", "αₛ=0.15"]}},
            "strokeDash": {"field": "s", "type": "nominal",
              "scale": {"domain": ["αₛ=0.3", "αₛ=0.225", "αₛ=0.15", "Gaussian fit to ALICE data", "0.3 run1", "0.3 run2", "0.3 run3", "0.225 run1", "0.225 run2", "0.225 run3", "0.15 run1", "0.15 run2", "0.15 run3"],
                        "range": [[1, 0], [1, 0], [1, 0], [12, 5, 2, 5, 2, 5], [5, 5], [0.1, 3.5], [6, 4, 0.1, 4], [5, 5], [0.1, 3.5], [6, 4, 0.1, 4], [5, 5], [0.1, 3.5], [6, 4, 0.1, 4]]},
              "legend": {"orient": "none", "legendX": 230, "legendY": 219, "labelOffset": -154, "title": null, "values": ["αₛ=0.3", "αₛ=0.225", "αₛ=0.15"]}}
          }
        },
        {
          "transform": [{"filter": "indexof(datum.s, 'run') < 0 && datum.s != 'Gaussian fit to ALICE data'"}],
          "mark": {"type": "line", "strokeWidth": 3.5, "interpolate": "monotone", "clip": true},
          "encoding": {
            "x": {"field": "a", "type": "quantitative", "axis": {"orient": "top", "values": [-0.6, -0.4, -0.2, 0, 0.2, 0.4, 0.6], "labels": false, "title": null}},
            "y": {"field": "v", "type": "quantitative", "axis": {"orient": "right", "values": [0.6, 0.7, 0.8, 0.9, 1, 1.1], "labels": false, "title": null}},
            "color": {"field": "s", "type": "nominal", "legend": {"orient": "none", "legendX": 230, "legendY": 219, "labelOffset": -154, "title": null, "values": ["αₛ=0.3", "αₛ=0.225", "αₛ=0.15"]}},
            "strokeDash": {"field": "s", "type": "nominal", "legend": {"orient": "none", "legendX": 230, "legendY": 219, "labelOffset": -154, "title": null, "values": ["αₛ=0.3", "αₛ=0.225", "αₛ=0.15"]}}
          }
        },
        {
          "data": {"values": [{"label": "(b)"}]},
          "mark": {"type": "text", "align": "left", "baseline": "middle", "fontSize": 24, "font": "Liberation Sans", "color": "black"},
          "encoding": {
            "x": {"datum": -0.542, "type": "quantitative", "axis": null},
            "y": {"datum": 1.048, "type": "quantitative", "axis": null},
            "text": {"field": "label"}
          }
        }
      ]
    }
  ],
  "resolve": {"scale": {"color": "independent", "strokeDash": "independent"}, "legend": {"color": "independent", "strokeDash": "independent"}}
}
